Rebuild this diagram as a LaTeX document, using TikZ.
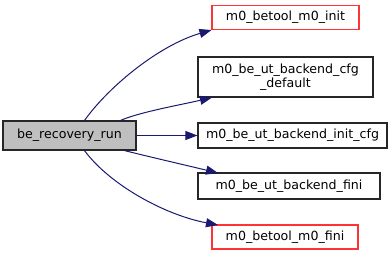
\documentclass[tikz,border=0pt]{standalone}
\usepackage{fontspec}
\setmainfont{DejaVu Sans}
\usetikzlibrary{arrows.meta}
\definecolor{edgeblue}{HTML}{191970}
\definecolor{callred}{HTML}{FF0000}
\definecolor{rootgray}{HTML}{BFBFBF}
\begin{document}
\begin{tikzpicture}[x=1pt,y=-1pt,
  fn/.style={draw=black!85, line width=1.1pt, inner sep=0pt, font=\fontsize{12.6}{14}\selectfont, align=center},
  ext/.style={fn, draw=callred!80},
  call/.style={draw=edgeblue, line width=1pt, -{Triangle[length=12pt,width=9pt]}}]
\useasboundingbox (0,0) rectangle (392,256);
% caller
\node[fn, fill=rootgray, minimum width=133pt, minimum height=29pt] (root) at (69.5,135.5) {be\_recovery\_run};
% callees
\node[ext, minimum width=147pt, minimum height=24pt] (init) at (285.5,17.5) {m0\_betool\_m0\_init};
\node[fn, minimum width=175pt, minimum height=40pt] (cfgdef) at (285.5,77) {m0\_be\_ut\_backend\_cfg\\\_default};
\node[fn, minimum width=189pt, minimum height=25pt] (initcfg) at (292.5,135.5) {m0\_be\_ut\_backend\_init\_cfg};
\node[fn, minimum width=182pt, minimum height=26pt] (fini) at (289,186) {m0\_be\_ut\_backend\_fini};
\node[ext, minimum width=146pt, minimum height=24pt] (mfini) at (285,237) {m0\_betool\_m0\_fini};
% call edges
\draw[call] (root.north west) ++(82,0) coordinate (s1) (s1) .. controls (110,85) and (160,45) .. (init.south west);
\draw[call] (root.north west) ++(118,0) coordinate (s2) (s2) .. controls (140,112) and (180,105) .. (cfgdef.south west -| 212,97);
\draw[call] (root.east) -- (initcfg.west);
\draw[call] (root.south west) ++(122,0) coordinate (s4) (s4) .. controls (150,157) and (185,165) .. (218,173);
\draw[call] (root.south west) ++(82,0) coordinate (s5) (s5) .. controls (110,185) and (165,215) .. (218,225);
\end{tikzpicture}
\end{document}
